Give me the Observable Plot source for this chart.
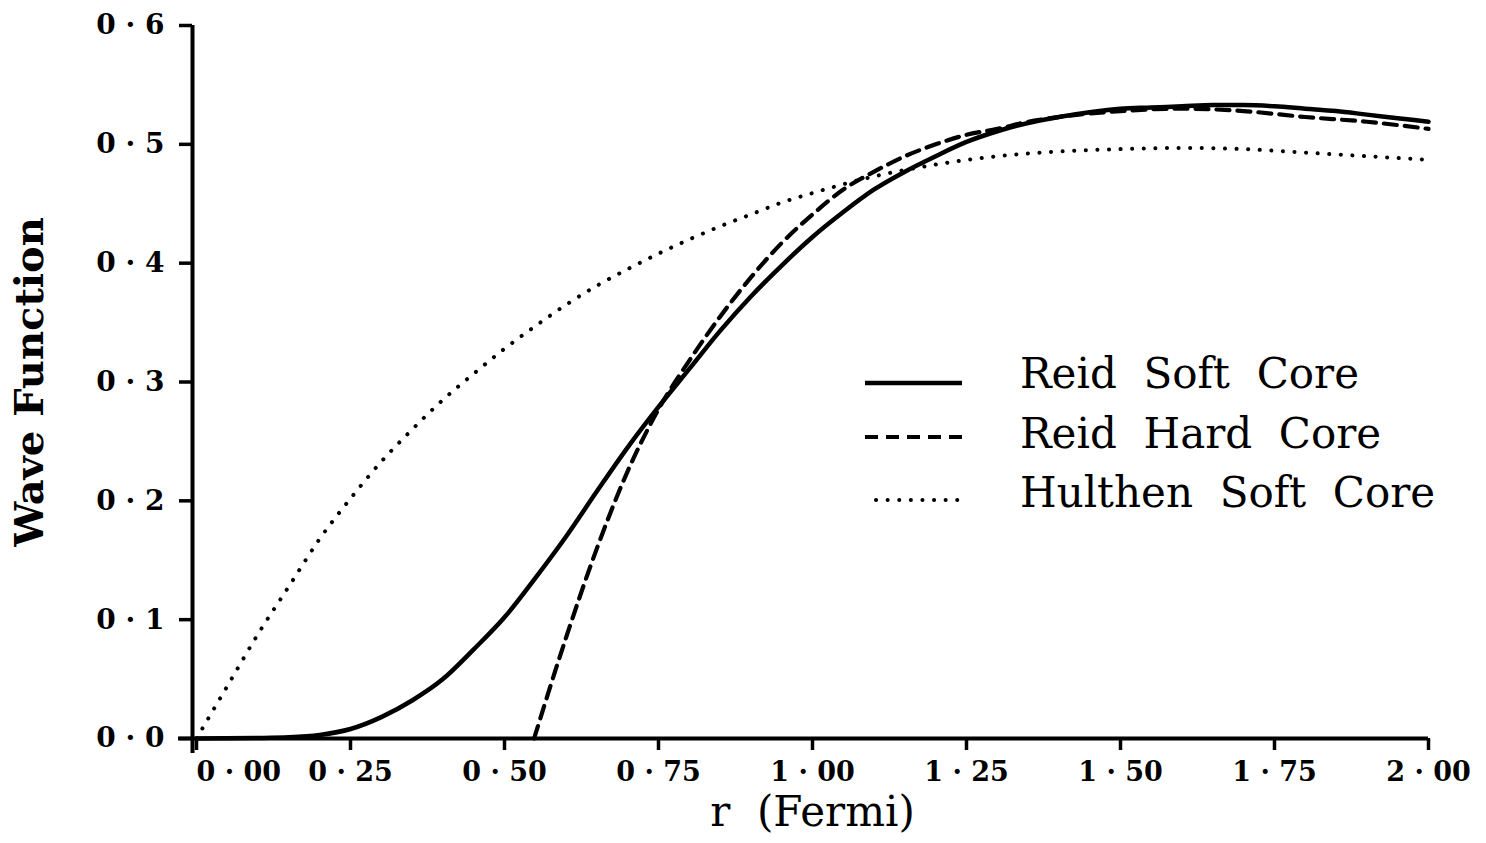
<!DOCTYPE html>
<html>
<head>
<meta charset="utf-8">
<script src="https://cdn.jsdelivr.net/npm/d3@7"></script>
<script src="https://cdn.jsdelivr.net/npm/@observablehq/plot@0.6"></script>
<style>
  html, body { margin: 0; padding: 0; background: #fff; }
  #chart { width: 1486px; height: 843px; overflow: hidden; }
  #chart svg { max-width: none !important; }
</style>
</head>
<body>
<div id="chart"></div>
<script>
// ---- data ----
const seriesNames = ["Reid Soft Core", "Reid Hard Core", "Hulthen Soft Core"];

const rSoft = [0, 0.1, 0.15, 0.2, 0.25, 0.3, 0.35, 0.4, 0.45, 0.5, 0.55, 0.6, 0.65, 0.7, 0.75, 0.8, 0.85, 0.9, 0.95, 1.0, 1.05, 1.1, 1.15, 1.2, 1.25, 1.3, 1.35, 1.4, 1.45, 1.5, 1.55, 1.6, 1.65, 1.7, 1.75, 1.8, 1.85, 1.9, 1.95, 2.0];
const reidSoft = [0, 0.0004, 0.001, 0.003, 0.008, 0.018, 0.032, 0.050, 0.075, 0.102, 0.135, 0.170, 0.208, 0.245, 0.279, 0.311, 0.343, 0.372, 0.398, 0.422, 0.443, 0.462, 0.477, 0.490, 0.502, 0.511, 0.518, 0.523, 0.527, 0.530, 0.531, 0.532, 0.533, 0.533, 0.532, 0.530, 0.528, 0.525, 0.522, 0.519];

const rHard = [0.548, 0.6, 0.65, 0.7, 0.75, 0.8, 0.85, 0.9, 0.95, 1.0, 1.05, 1.1, 1.15, 1.2, 1.25, 1.3, 1.35, 1.4, 1.5, 1.6, 1.7, 1.8, 1.9, 2.0];
const reidHard = [0, 0.085, 0.160, 0.225, 0.277, 0.318, 0.355, 0.388, 0.417, 0.441, 0.462, 0.477, 0.490, 0.500, 0.508, 0.513, 0.519, 0.523, 0.528, 0.530, 0.528, 0.523, 0.519, 0.513];

const rHul = [0, 0.05, 0.1, 0.15, 0.2, 0.25, 0.3, 0.35, 0.4, 0.45, 0.5, 0.55, 0.6, 0.65, 0.7, 0.75, 0.8, 0.85, 0.9, 0.95, 1.0, 1.1, 1.2, 1.3, 1.4, 1.5, 1.6, 1.7, 1.8, 1.9, 2.0];
const hulthen = [0, 0.044, 0.088, 0.128, 0.168, 0.202, 0.233, 0.260, 0.285, 0.307, 0.328, 0.347, 0.365, 0.381, 0.395, 0.408, 0.420, 0.431, 0.441, 0.451, 0.459, 0.473, 0.483, 0.490, 0.494, 0.496, 0.497, 0.496, 0.493, 0.490, 0.487];

const xTicks = [0, 0.25, 0.5, 0.75, 1.0, 1.25, 1.5, 1.75, 2.0];
const yTicks = [0, 0.1, 0.2, 0.3, 0.4, 0.5, 0.6];
const xLabel = "r  (Fermi)";
const yLabel = "Wave Function";

// ---- tables built from the arrays ----
const soft = rSoft.map((r, i) => ({r, v: reidSoft[i]}));
const hard = rHard.map((r, i) => ({r, v: reidHard[i]}));
const hul = rHul.map((r, i) => ({r, v: hulthen[i]}));

const fmtX = d => d.toFixed(2).replace(".", " · ");
const fmtY = d => "0 · " + Math.round(d * 10);

const tickFont = "'DejaVu Serif', serif";
const textFont = "'DejaVu Serif', serif";

const W = 1486, H = 843;

const plot = Plot.plot({
  width: W,
  height: H,
  marginLeft: 196,
  marginRight: W - 1428,
  marginTop: 25,
  marginBottom: H - 738,
  style: {background: "#fff", color: "#000", fontFamily: textFont, maxWidth: "none"},
  x: {domain: [0, 2]},
  y: {domain: [0, 0.6]},
  marks: [
    // axis lines
    Plot.ruleX([0], {dx: -4, insetBottom: -15, stroke: "#000", strokeWidth: 4}),
    Plot.ruleY([0], {insetLeft: -18, stroke: "#000", strokeWidth: 4}),
    // ticks + labels
    Plot.axisY(yTicks, {tickSize: 13, tickPadding: 15, dx: -4, tickFormat: fmtY, fontSize: 28, fontWeight: "bold", fontFamily: tickFont, strokeWidth: 3.5, label: null}),
    Plot.axisX(xTicks.slice(1), {tickSize: 12, tickPadding: 11, tickFormat: fmtX, fontSize: 27, fontWeight: "bold", fontFamily: tickFont, strokeWidth: 3.5, label: null}),
    Plot.axisX(xTicks.slice(0, 1), {tickSize: 12, tickPadding: 11, tickFormat: fmtX, fontSize: 27, fontWeight: "bold", fontFamily: tickFont, textAnchor: "start", strokeWidth: 3.5, label: null}),
    // curves
    Plot.line(hul, {x: "r", y: "v", curve: "monotone-x", stroke: "#000", strokeWidth: 4, strokeDasharray: "0.1 11.5", strokeLinecap: "round"}),
    Plot.line(hard, {x: "r", y: "v", curve: "monotone-x", stroke: "#000", strokeWidth: 4.2, strokeDasharray: "13 8"}),
    Plot.line(soft, {x: "r", y: "v", curve: "monotone-x", stroke: "#000", strokeWidth: 4.5}),
    // axis titles
    Plot.text([xLabel], {frameAnchor: "bottom", dy: 87, fontSize: 42, fontFamily: textFont, fill: "#000"}),
    Plot.text([yLabel], {frameAnchor: "left", textAnchor: "middle", dx: -166, rotate: -90, fontSize: 40, fontWeight: "bold", fontFamily: textFont, fill: "#000"})
  ]
});

document.getElementById("chart").appendChild(plot);

// ---- legend (drawn inside the same SVG) ----
const svg = d3.select(plot);
const styles = [
  {dash: null, cap: "butt", w: 4.5, x1: 865},
  {dash: "13 8", cap: "butt", w: 4.2, x1: 865},
  {dash: "0.1 11.5", cap: "round", w: 4, x1: 876}
];
const legendRows = [383, 437, 500];
const textRows = [373, 433, 492];
const g = svg.append("g").attr("class", "legend").attr("text-anchor", "start");
seriesNames.forEach((name, i) => {
  g.append("line")
    .attr("x1", styles[i].x1).attr("x2", 962)
    .attr("y1", legendRows[i]).attr("y2", legendRows[i])
    .attr("stroke", "#000").attr("stroke-width", styles[i].w)
    .attr("stroke-linecap", styles[i].cap)
    .attr("stroke-dasharray", styles[i].dash);
  g.append("text")
    .attr("x", 1020).attr("y", textRows[i])
    .attr("dy", "0.35em")
    .attr("text-anchor", "start")
    .attr("font-family", textFont)
    .attr("font-size", 42)
    .attr("fill", "#000")
    .style("white-space", "pre")
    .text(name.split(" ").join("  "));
});
</script>
</body>
</html>
